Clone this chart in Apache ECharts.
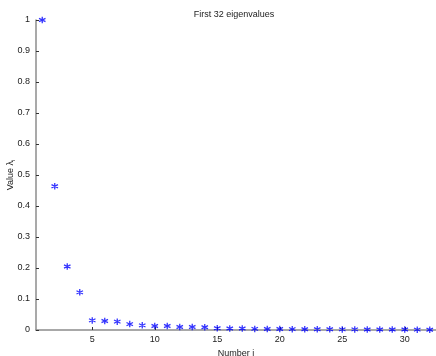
<!DOCTYPE html>
<html>
<head>
<meta charset="utf-8">
<script src="https://cdn.jsdelivr.net/npm/echarts@6/dist/echarts.min.js"></script>
<style>
  html, body { margin: 0; padding: 0; background: #fff; }
  #chart { width: 436px; height: 356px; }
</style>
</head>
<body>
<div id="chart"></div>
<script>
// index i of each eigenvalue
const indices = [1, 2, 3, 4, 5, 6, 7, 8, 9, 10, 11, 12, 13, 14, 15, 16,
  17, 18, 19, 20, 21, 22, 23, 24, 25, 26, 27, 28, 29, 30, 31, 32]
// eigenvalues
const eigenvalues = [1.0, 0.4635, 0.205, 0.1215, 0.031, 0.029, 0.027, 0.019,
  0.015, 0.013, 0.013, 0.0097, 0.0097, 0.009, 0.0055, 0.005,
  0.005, 0.0035, 0.003, 0.003, 0.0028, 0.0025, 0.0023, 0.0022,
  0.002, 0.0019, 0.0018, 0.0016, 0.0015, 0.0014, 0.0012, 0.001]
const xTicks = [5, 10, 15, 20, 25, 30]

const font = 'Liberation Sans, Arial, sans-serif'
const axisGrey = '#8c8c8c'
const asterisk = 'path://M0,-5L0,5M-4.33,-2.5L4.33,2.5M-4.33,2.5L4.33,-2.5'

const myChart = echarts.init(document.getElementById('chart'))
myChart.setOption({
  animation: false,
  title: {
    text: 'First 32 eigenvalues',
    left: 229,
    top: 5,
    textAlign: 'center',
    textStyle: { fontFamily: font, fontSize: 9, fontWeight: 'normal', color: '#222' }
  },
  grid: { left: 36, right: 0, top: 20, bottom: 26, outerBoundsMode: 'none', containLabel: false },
  xAxis: {
    type: 'value',
    min: 0.5,
    max: 32.5,
    name: 'Number i',
    nameLocation: 'middle',
    nameGap: 19,
    nameMoveOverlap: false,
    nameTextStyle: { fontFamily: font, fontSize: 9, color: '#222' },
    axisLine: { lineStyle: { color: axisGrey, width: 1.5 } },
    axisTick: { inside: true, length: 3, lineStyle: { color: '#333' }, customValues: xTicks },
    axisLabel: { fontFamily: font, fontSize: 9, color: '#222', margin: 5, customValues: xTicks },
    splitLine: { show: false }
  },
  yAxis: {
    type: 'value',
    min: 0,
    max: 1,
    interval: 0.1,
    name: 'Value λ{sub|i}',
    nameLocation: 'middle',
    nameGap: 20,
    nameMoveOverlap: false,
    nameTextStyle: {
      fontFamily: font, fontSize: 9, color: '#222',
      rich: { sub: { fontFamily: font, fontSize: 6, color: '#222', verticalAlign: 'bottom', padding: [4, 0, 0, 0] } }
    },
    axisLine: { show: true, lineStyle: { color: axisGrey, width: 1.5 } },
    axisTick: { show: true, inside: true, length: 3, lineStyle: { color: '#333' } },
    axisLabel: {
      fontFamily: font, fontSize: 9, color: '#222', margin: 6,
      formatter: v => (Math.round(v * 10) / 10).toString()
    },
    splitLine: { show: false }
  },
  series: [{
    type: 'scatter',
    data: indices.map((x, k) => [x, eigenvalues[k]]),
    symbol: asterisk,
    symbolSize: 6.5,
    itemStyle: { color: '#3333ff', borderColor: '#0000ff', borderWidth: 1.3 }
  }]
})
</script>
</body>
</html>
